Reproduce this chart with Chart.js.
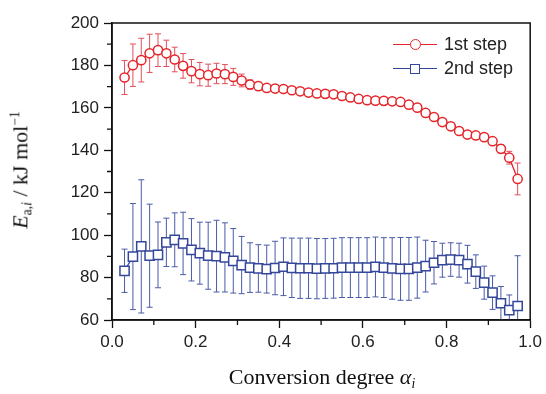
<!DOCTYPE html>
<html>
<head>
<meta charset="utf-8">
<script src="https://cdn.jsdelivr.net/npm/chart.js@4/dist/chart.umd.min.js"></script>
<style>
  html, body { margin: 0; padding: 0; background: #fff; }
  #wrap { position: relative; width: 546px; height: 394px; }
  canvas { position: absolute; left: 0; top: 0; }
  .ttl { position: absolute; font-family: "Liberation Serif", "Times New Roman", serif; font-size: 22px; color: #111; white-space: nowrap; line-height: 1; }
  .ttl sub { font-size: 0.62em; vertical-align: -0.3em; }
  .ttl sup { font-size: 0.62em; vertical-align: 0.55em; }
  #xTitle { left: 322px; top: 378px; transform: translate(-50%, -50%); }
  #yTitle { left: 21px; top: 170px; transform: translate(-50%, -50%) rotate(-90deg); }
  .leg { position: absolute; left: 393px; height: 20px; font-family: "Liberation Sans", Arial, sans-serif; font-size: 18px; color: #222; }
  .leg .ln { position: absolute; left: 0; top: 9px; width: 44px; height: 0; border-top: 1.3px solid; }
  .leg .mk { position: absolute; background: #fff; border: 1.5px solid; box-sizing: border-box; }
  .leg .tx { position: absolute; left: 51px; top: -1px; white-space: nowrap; }
</style>
</head>
<body>
<div id="wrap">
  <canvas id="grafico" width="546" height="394"></canvas>
  <div class="ttl" id="yTitle"><i>E</i><sub>a,<i>i</i></sub> / kJ mol<sup>−1</sup></div>
  <div class="ttl" id="xTitle">Conversion degree <i>α</i><sub><i>i</i></sub></div>
  <div class="leg" style="top:35px">
    <span class="ln" style="border-color:#e4262c"></span>
    <span class="mk" style="border-color:#e4262c;left:17px;top:4px;width:11px;height:11px;border-radius:50%"></span>
    <span class="tx">1st step</span>
  </div>
  <div class="leg" style="top:59px">
    <span class="ln" style="border-color:#34479a"></span>
    <span class="mk" style="border-color:#34479a;left:17px;top:5px;width:10px;height:10px"></span>
    <span class="tx">2nd step</span>
  </div>
</div>
<script>
// conversion degree
const alfa = [0.03, 0.05, 0.07, 0.09, 0.11, 0.13, 0.15, 0.17, 0.19, 0.21, 0.23, 0.25,
  0.27, 0.29, 0.31, 0.33, 0.35, 0.37, 0.39, 0.41, 0.43, 0.45, 0.47, 0.49,
  0.51, 0.53, 0.55, 0.57, 0.59, 0.61, 0.63, 0.65, 0.67, 0.69, 0.71, 0.73,
  0.75, 0.77, 0.79, 0.81, 0.83, 0.85, 0.87, 0.89, 0.91, 0.93, 0.95, 0.97]

// 1st step
const passo1 = [174.3, 180.1, 182.5, 185.7, 187.2, 185.7, 182.8, 179.8, 177.3, 175.9, 175.4, 176.2,
  175.9, 174.6, 172.9, 171.0, 170.2, 169.4, 169.1, 168.9, 168.3, 167.8, 167.2, 166.8,
  166.6, 166.4, 165.6, 164.9, 164.2, 163.6, 163.4, 163.3, 163.1, 162.8, 161.5, 160.1,
  157.6, 155.7, 153.3, 151.3, 149.1, 147.4, 147.0, 146.2, 144.3, 140.7, 136.5, 126.5]
const erro1 = [8.0, 10.0, 10.3, 9.0, 7.7, 6.2, 5.8, 5.8, 5.5, 5.5, 5.2, 4.8,
  4.5, 4.0, 3.0, 2.2, 2.0, 1.5, 1.5, 1.5, 1.5, 1.5, 1.5, 1.5,
  1.5, 1.5, 1.5, 1.5, 1.5, 1.5, 1.5, 1.5, 1.5, 1.5, 1.5, 1.5,
  1.5, 1.5, 1.5, 1.5, 1.5, 1.5, 1.5, 1.5, 1.5, 2.0, 3.0, 7.5]

// 2nd step
const passo2 = [83.2, 89.9, 94.7, 90.3, 90.7, 96.6, 97.8, 96.1, 93.1, 91.5, 90.3, 90.1,
  89.5, 87.9, 85.9, 84.7, 84.3, 84.0, 84.5, 85.1, 84.6, 84.4, 84.4, 84.2,
  84.3, 84.4, 84.7, 84.7, 84.7, 84.7, 85.0, 84.7, 84.3, 84.1, 84.1, 84.7,
  85.4, 87.0, 88.2, 88.5, 88.2, 86.3, 82.8, 77.6, 72.9, 67.9, 64.7, 66.6]
const erro2 = [10.2, 25.0, 31.4, 24.3, 15.5, 11.4, 12.7, 14.7, 14.7, 14.6, 15.8, 16.9,
  16.3, 15.2, 13.5, 11.7, 11.2, 11.3, 12.6, 13.6, 14.0, 14.2, 14.2, 14.2,
  14.1, 14.1, 14.1, 14.1, 14.1, 14.1, 14.1, 14.1, 14.5, 14.8, 14.8, 14.4,
  12.2, 10.0, 8.0, 7.9, 8.0, 8.9, 7.9, 7.8, 7.9, 7.9, 7.1, 23.7]

const ticksX = [0, 0.2, 0.4, 0.6, 0.8, 1.0]
const ticksY = [60, 80, 100, 120, 140, 160, 180, 200]
const menoresX = [0.1, 0.3, 0.5, 0.7, 0.9]
const menoresY = [70, 90, 110, 130, 150, 170, 190]

const vermelho = '#e4262c'
const azul = '#34479a'

const pontos = (ys) => alfa.map((a, i) => ({ x: a, y: ys[i] }))

// error bars, drawn under the markers
const barras = {
  id: 'barras',
  beforeDatasetsDraw(chart) {
    const { ctx, chartArea, scales: { x, y } } = chart
    ctx.save()
    ctx.beginPath()
    ctx.rect(chartArea.left, chartArea.top, chartArea.width, chartArea.height)
    ctx.clip()
    chart.data.datasets.forEach(ds => {
      ctx.strokeStyle = ds.corErro
      ctx.lineWidth = 1
      ds.data.forEach((p, i) => {
        const e = ds.erros[i]
        const px = x.getPixelForValue(p.x)
        const t = y.getPixelForValue(p.y + e)
        const b = y.getPixelForValue(p.y - e)
        ctx.beginPath()
        ctx.moveTo(px, t); ctx.lineTo(px, b)
        ctx.moveTo(px - 3, t); ctx.lineTo(px + 3, t)
        ctx.moveTo(px - 3, b); ctx.lineTo(px + 3, b)
        ctx.stroke()
      })
    })
    ctx.restore()
  }
}

// frame + minor ticks
const moldura = {
  id: 'moldura',
  afterDraw(chart) {
    const { ctx, chartArea: a, scales: { x, y } } = chart
    ctx.save()
    ctx.strokeStyle = '#111'
    ctx.lineWidth = 1.5
    ctx.strokeRect(a.left, a.top, a.width, a.height)
    ctx.lineWidth = 1.3
    ctx.beginPath()
    menoresX.forEach(v => {
      const px = x.getPixelForValue(v)
      ctx.moveTo(px, a.bottom); ctx.lineTo(px, a.bottom + 5)
    })
    menoresY.forEach(v => {
      const py = y.getPixelForValue(v)
      ctx.moveTo(a.left, py); ctx.lineTo(a.left - 5, py)
    })
    ctx.stroke()
    ctx.restore()
  }
}

const fonteTicks = { family: '"Liberation Sans", Arial, sans-serif', size: 17 }

new Chart(document.getElementById('grafico'), {
  type: 'line',
  data: {
    datasets: [
      {
        label: '1st step',
        data: pontos(passo1),
        erros: erro1,
        corErro: '#e2505a',
        borderColor: vermelho,
        borderWidth: 1.3,
        pointStyle: 'circle',
        pointRadius: 4.6,
        pointBorderWidth: 1.5,
        pointBorderColor: vermelho,
        pointBackgroundColor: '#fff',
        tension: 0
      },
      {
        label: '2nd step',
        data: pontos(passo2),
        erros: erro2,
        corErro: '#4b5ba8',
        borderColor: azul,
        borderWidth: 1.3,
        pointStyle: 'rect',
        pointRadius: 6.5,
        pointBorderWidth: 1.5,
        pointBorderColor: azul,
        pointBackgroundColor: '#fff',
        tension: 0
      }
    ]
  },
  options: {
    responsive: false,
    animation: false,
    devicePixelRatio: 1,
    layout: { padding: { top: 23, right: 14, left: 0, bottom: 0 } },
    plugins: { legend: { display: false }, tooltip: { enabled: false } },
    scales: {
      x: {
        type: 'linear',
        min: 0,
        max: 1,
        afterFit: s => { s.height = 74 },
        afterBuildTicks: s => { s.ticks = ticksX.map(v => ({ value: v })) },
        ticks: { font: fonteTicks, color: '#222', padding: 4, maxRotation: 0, callback: v => v.toFixed(1) },
        grid: { drawOnChartArea: false, tickLength: 8, tickColor: '#111', tickWidth: 1.3 },
        border: { color: '#111', width: 1.5 }
      },
      y: {
        min: 60,
        max: 200,
        afterFit: s => { s.width = 112 },
        afterBuildTicks: s => { s.ticks = ticksY.map(v => ({ value: v })) },
        ticks: { font: fonteTicks, color: '#222', padding: 5 },
        grid: { drawOnChartArea: false, tickLength: 8, tickColor: '#111', tickWidth: 1.3 },
        border: { color: '#111', width: 1.5 }
      }
    }
  },
  plugins: [barras, moldura]
})
</script>
</body>
</html>
